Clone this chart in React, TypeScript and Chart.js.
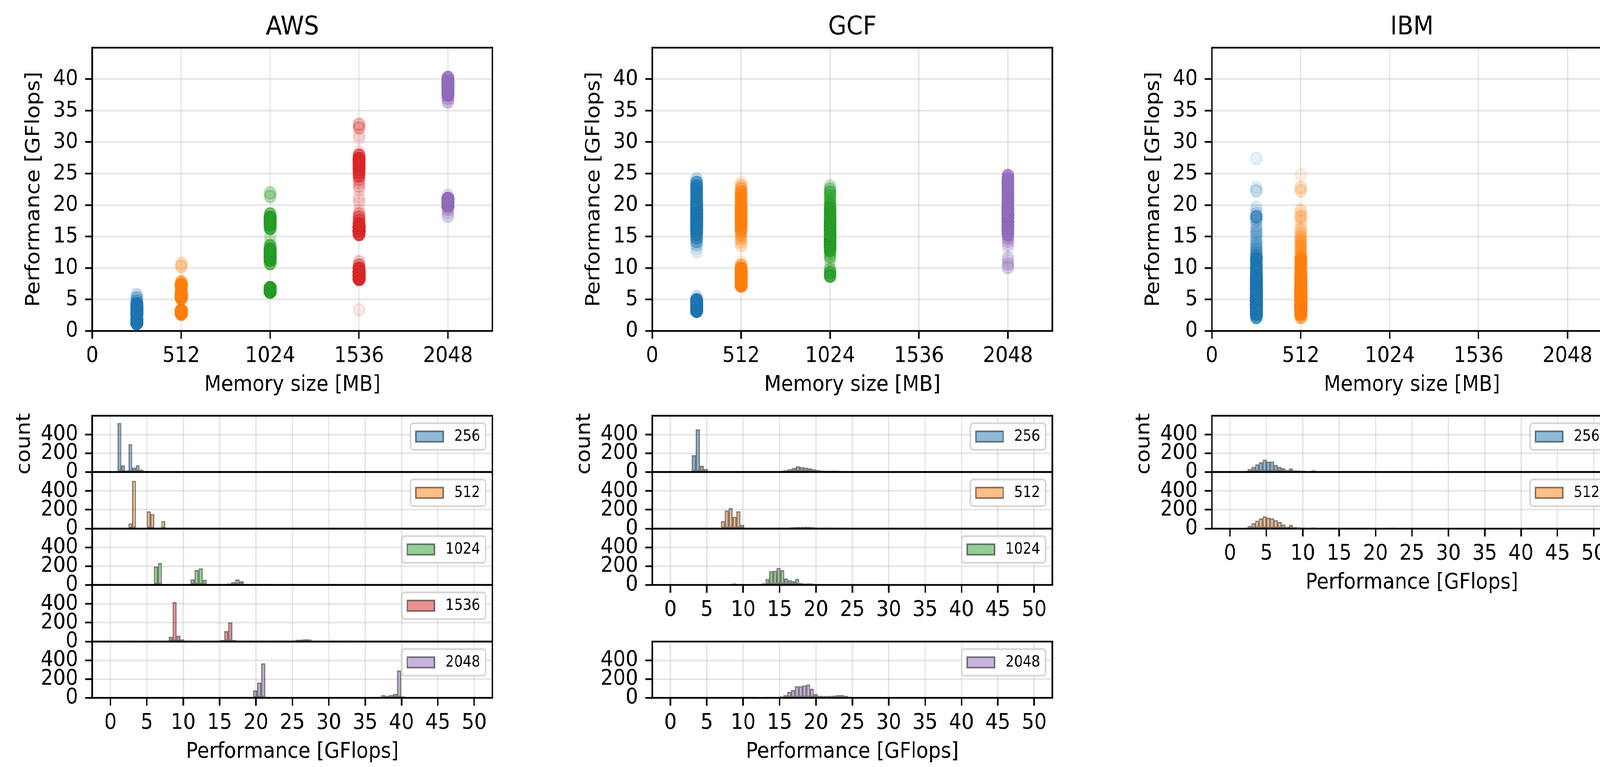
import React, { useEffect, useRef, useState } from "react";
import { Chart, registerables } from "chart.js";

Chart.register(...registerables);

// ---------------- data ----------------
const PROVIDERS = ["AWS", "GCF", "IBM"];
const MEMORY_SIZES = [256, 512, 1024, 1536, 2048];
const SERIES_COLORS = ["#1f77b4", "#ff7f0e", "#2ca02c", "#d62728", "#9467bd"];
const MEMORY_TICKS = [0, 512, 1024, 1536, 2048];
const PERF_TICKS = [0, 5, 10, 15, 20, 25, 30, 35, 40];
const HIST_PERF_TICKS = [0, 5, 10, 15, 20, 25, 30, 35, 40, 45, 50];
const COUNT_TICKS = [0, 200, 400];

// histogram bins: first bin edge [GFlops], bin width [GFlops], sample count per bin
const AWS_256 = { start: 1.0, width: 0.5, counts: [522, 70, 15, 296, 45, 70, 25, 5, 4, 2] };
const AWS_512 = { start: 2.5, width: 0.5, counts: [55, 506, 0, 0, 0, 183, 152, 8, 10, 79, 8, 0, 0, 0, 0, 3, 2] };
const AWS_1024 = { start: 5.96, width: 0.56, counts: [194, 233, 0, 0, 0, 0, 0, 0, 8, 59, 157, 176, 53, 8, 1, 1, 1, 0, 14, 29, 57, 39, 8, 0, 0, 0, 0, 3, 3] };
const AWS_1536 = { start: 3.095, width: 0.545, counts: [1, 0, 0, 0, 0, 0, 0, 0, 0, 49, 418, 61, 22, 5, 2, 0, 0, 0, 0, 0, 0, 0, 16, 110, 202, 16, 6, 6, 3, 1, 0, 1, 1, 1, 0, 1, 2, 2, 3, 8, 10, 18, 20, 24, 22, 8, 1, 0, 0, 0, 1, 1, 0, 3, 3] };
const AWS_2048 = { start: 17.96, width: 0.55, counts: [3, 2, 4, 78, 162, 367, 2, 0, 0, 0, 0, 0, 0, 0, 0, 0, 0, 0, 0, 0, 0, 0, 0, 0, 0, 0, 0, 0, 0, 0, 0, 0, 0, 4, 5, 29, 22, 29, 41, 290, 14] };

const GCF_256 = { start: 2.94, width: 0.55, counts: [178, 453, 65, 31, 2, 0, 0, 0, 0, 0, 0, 0, 0, 0, 0, 0, 0, 1, 1, 2, 5, 8, 12, 18, 30, 42, 60, 52, 46, 38, 28, 20, 14, 12, 12, 14, 12, 8, 2] };
const GCF_512 = { start: 6.96, width: 0.53, counts: [79, 191, 217, 124, 183, 39, 6, 1, 0, 0, 0, 0, 2, 2, 3, 4, 6, 10, 14, 16, 17, 18, 18, 16, 12, 9, 7, 10, 8, 5, 3, 1] };
const GCF_1024 = { start: 8.5, width: 0.51, counts: [14, 10, 4, 1, 0, 2, 5, 4, 16, 63, 147, 150, 180, 157, 67, 49, 39, 63, 20, 14, 16, 14, 8, 6, 5, 5, 6, 4, 2] };
const GCF_2048 = { start: 9.84, width: 0.52, counts: [3, 3, 2, 2, 0, 0, 1, 2, 3, 5, 14, 29, 62, 82, 123, 123, 131, 140, 94, 39, 20, 18, 18, 20, 23, 29, 29, 20, 10] };

const IBM_256 = { start: 1.91, width: 0.515, counts: [10, 31, 53, 81, 103, 131, 110, 110, 74, 53, 39, 21, 36, 17, 14, 13, 10, 6, 16, 7, 4, 4, 3, 3, 2, 2, 3, 2, 2, 1, 3, 8, 2, 1, 1, 0, 0, 0, 0, 2, 1, 0, 0, 0, 0, 0, 0, 0, 0, 1] };
const IBM_512 = { start: 1.91, width: 0.515, counts: [7, 29, 57, 83, 107, 129, 114, 107, 89, 69, 43, 21, 39, 17, 14, 12, 10, 9, 13, 6, 3, 4, 5, 3, 4, 3, 2, 2, 1, 1, 1, 3, 1, 2, 0, 0, 0, 0, 0, 2, 2, 0, 0, 0, 1] };

const AWS_SERIES = [AWS_256, AWS_512, AWS_1024, AWS_1536, AWS_2048];
const GCF_SERIES = [GCF_256, GCF_512, GCF_1024, null, GCF_2048];
const IBM_SERIES = [IBM_256, IBM_512, null, null, null];
const PROVIDER_SERIES: any[][] = [AWS_SERIES, GCF_SERIES, IBM_SERIES];

// ---------------- styling / layout ----------------
const FIG_W = 4526;
const FIG_H = 1963;
const FONT = "'DejaVu Sans', sans-serif";
const TICK_PX = 55.6;
const TITLE_PX = 66.7;
const LEGEND_PX = 38.6;
const LH = TICK_PX * 1.2;
const LINE_W = 4.4;
const TICK_LEN = 20;
const GRID_COLOR = "rgba(176,176,176,0.3)";

const COL_LEFT = [261, 1845, 3428];
const PLOT_W = 1132;
const SC_TOP = 122;
const SC_H = 725;
const HIST_TOPS = [1064, 1208, 1353, 1497, 1642];
const HIST_BOTTOM = 1786;

Chart.defaults.font.family = FONT;
Chart.defaults.color = "#000";

function rgba(hex: string, a: number) {
  const n = parseInt(hex.slice(1), 16);
  return `rgba(${(n >> 16) & 255},${(n >> 8) & 255},${n & 255},${a})`;
}

function binCenter(s: any, i: number) {
  return s.start + (i + 0.5) * s.width;
}

function scatterPoints(s: any, memory: number) {
  const pts: any[] = [];
  s.counts.forEach((c: number, i: number) => {
    for (let k = 0; k < c; k++) pts.push({ x: memory, y: binCenter(s, i) });
  });
  return pts;
}

function decor(params: { title?: string; legend?: { label: string; color: string } }) {
  return {
    id: "decor",
    afterDraw(chart: any) {
      const { ctx, chartArea: a } = chart;
      ctx.save();
      ctx.strokeStyle = "#000";
      ctx.lineWidth = LINE_W;
      ctx.strokeRect(a.left, a.top, a.right - a.left, a.bottom - a.top);
      if (params.title) {
        ctx.font = `${TITLE_PX}px ${FONT}`;
        ctx.fillStyle = "#000";
        ctx.textAlign = "center";
        ctx.textBaseline = "alphabetic";
        ctx.fillText(params.title, (a.left + a.right) / 2, a.top - 34);
      }
      if (params.legend) {
        const f = LEGEND_PX;
        const label = params.legend.label;
        ctx.font = `${f}px ${FONT}`;
        const tw = ctx.measureText(label).width;
        const bp = 0.4 * f, hl = 2 * f, hh = 0.7 * f, tp = 0.8 * f, ap = 0.5 * f;
        const bw = bp + hl + tp + tw + bp;
        const bh = 2 * bp + 0.96 * f;
        const bx = a.right - ap - bw;
        const by = a.top + ap;
        ctx.beginPath();
        (ctx as any).roundRect(bx, by, bw, bh, 0.2 * f);
        ctx.fillStyle = "rgba(255,255,255,0.8)";
        ctx.fill();
        ctx.strokeStyle = "rgba(204,204,204,0.8)";
        ctx.lineWidth = LINE_W;
        ctx.stroke();
        const cy = by + bh / 2;
        ctx.fillStyle = rgba(params.legend.color, 0.5);
        ctx.fillRect(bx + bp, cy - hh / 2, hl, hh);
        ctx.strokeStyle = "rgba(0,0,0,0.5)";
        ctx.lineWidth = 4;
        ctx.strokeRect(bx + bp, cy - hh / 2, hl, hh);
        ctx.fillStyle = "#000";
        ctx.textAlign = "left";
        ctx.textBaseline = "alphabetic";
        ctx.fillText(label, bx + bp + hl + tp, cy + 0.27 * f);
      }
      ctx.restore();
    },
  };
}

type Geo = { left: number; top: number; width: number; height: number; ml: number; mt: number; mr: number; mb: number };

function grid(drawTicks: boolean) {
  return { color: GRID_COLOR, lineWidth: LINE_W, drawTicks, tickLength: TICK_LEN, tickColor: "#000", tickWidth: LINE_W, offset: false };
}

const tickFont = { family: FONT, size: TICK_PX, lineHeight: 1.2 };

function baseOptions(g: Geo) {
  return {
    responsive: false,
    animation: false,
    devicePixelRatio: 1,
    events: [],
    layout: { padding: { left: 0, top: g.mt, right: g.mr, bottom: 0 } },
    plugins: { legend: { display: false }, tooltip: { enabled: false }, title: { display: false } },
  };
}

function scatterConfig(p: number, g: Geo) {
  const datasets = PROVIDER_SERIES[p]
    .map((s: any, i: number) =>
      s
        ? {
            label: String(MEMORY_SIZES[i]),
            data: scatterPoints(s, MEMORY_SIZES[i]),
            backgroundColor: rgba(SERIES_COLORS[i], 0.1),
            borderColor: rgba(SERIES_COLORS[i], 0.1),
            pointRadius: 15.5,
            pointHoverRadius: 15.5,
            pointBorderWidth: 5,
          }
        : null
    )
    .filter(Boolean);
  return {
    type: "scatter",
    data: { datasets },
    options: {
      ...baseOptions(g),
      scales: {
        x: {
          type: "linear",
          min: 0,
          max: 2304,
          afterBuildTicks: (s: any) => { s.ticks = MEMORY_TICKS.map((v) => ({ value: v })); },
          afterFit: (s: any) => { s.height = g.mb; },
          grid: grid(true),
          border: { display: false },
          ticks: { font: tickFont, color: "#000", padding: 11, maxRotation: 0, autoSkip: false, callback: (v: any) => String(v) },
          title: { display: true, text: "Memory size [MB]", font: tickFont, color: "#000", padding: { top: 0, bottom: g.mb - 139 - LH / 2 } },
        },
        y: {
          type: "linear",
          min: 0,
          max: 45,
          afterBuildTicks: (s: any) => { s.ticks = PERF_TICKS.map((v) => ({ value: v })); },
          afterFit: (s: any) => { s.width = g.ml; },
          grid: grid(true),
          border: { display: false },
          ticks: { font: tickFont, color: "#000", padding: 20, autoSkip: false, callback: (v: any) => String(v) },
          title: { display: true, text: "Performance [GFlops]", font: tickFont, color: "#000", padding: { top: g.ml - 164 - LH / 2, bottom: 0 } },
        },
      },
    },
    plugins: [decor({ title: PROVIDERS[p] })],
  };
}

function histConfig(p: number, row: number, g: Geo, o: { ticks: boolean; xTitle: boolean; yTitle: boolean }) {
  const s = PROVIDER_SERIES[p][row];
  const color = SERIES_COLORS[row];
  const label = String(MEMORY_SIZES[row]);
  return {
    type: "bar",
    data: {
      datasets: [
        {
          label,
          data: s.counts.map((c: number, i: number) => ({ x: binCenter(s, i), y: c })),
          backgroundColor: rgba(color, 0.5),
          borderColor: "rgba(0,0,0,0.5)",
          borderWidth: 3,
          borderSkipped: false,
          barPercentage: 1,
          categoryPercentage: 1,
          grouped: false,
        },
      ],
    },
    options: {
      ...baseOptions(g),
      scales: {
        x: {
          type: "linear",
          min: -2.5,
          max: 52.5,
          offset: false,
          afterBuildTicks: (sc: any) => { sc.ticks = HIST_PERF_TICKS.map((v) => ({ value: v })); },
          afterFit: (sc: any) => { sc.height = g.mb; },
          grid: grid(o.ticks),
          border: { display: false },
          ticks: { display: o.ticks, font: tickFont, color: "#000", padding: 11, maxRotation: 0, autoSkip: false, callback: (v: any) => String(v) },
          title: { display: o.xTitle, text: "Performance [GFlops]", font: tickFont, color: "#000", padding: { top: 0, bottom: g.mb - 139 - LH / 2 } },
        },
        y: {
          type: "linear",
          min: 0,
          max: 600,
          afterBuildTicks: (sc: any) => { sc.ticks = COUNT_TICKS.map((v) => ({ value: v })); },
          afterFit: (sc: any) => { sc.width = g.ml; },
          grid: grid(true),
          border: { display: false },
          ticks: { font: tickFont, color: "#000", padding: 20, autoSkip: false, callback: (v: any) => String(v) },
          title: { display: o.yTitle, text: "count", font: tickFont, color: "#000", padding: { top: g.ml - 191 - LH / 2, bottom: 0 } },
        },
      },
    },
    plugins: [decor({ legend: { label, color } })],
  };
}

function ChartPanel({ geo, make }: { geo: Geo; make: (g: Geo) => any }) {
  const ref = useRef<HTMLCanvasElement>(null);
  useEffect(() => {
    const chart = new Chart(ref.current as HTMLCanvasElement, make(geo));
    return () => chart.destroy();
  }, []);
  const W = geo.width + geo.ml + geo.mr;
  const H = geo.height + geo.mt + geo.mb;
  return (
    <canvas
      ref={ref}
      width={W}
      height={H}
      style={{ position: "absolute", left: geo.left - geo.ml, top: geo.top - geo.mt, width: W, height: H }}
    />
  );
}

export default function App() {
  // the figure is laid out in 4526x1963 figure pixels; fit it to the actual viewport
  const [fit] = useState(() => {
    const w = typeof window !== "undefined" ? window.innerWidth : FIG_W;
    const h = typeof window !== "undefined" ? window.innerHeight : FIG_H;
    return { sx: w > 0 ? w / FIG_W : 1, sy: h > 0 ? h / FIG_H : 1 };
  });

  useEffect(() => {
    document.body.style.margin = "0";
    document.body.style.overflow = "hidden";
    document.documentElement.style.overflow = "hidden";
  }, []);

  const panels: any[] = [];
  PROVIDERS.forEach((_, p) => {
    const sg: Geo = { left: COL_LEFT[p], top: SC_TOP, width: PLOT_W, height: SC_H, ml: 260, mt: 120, mr: 60, mb: 220 };
    panels.push(<ChartPanel key={`sc-${p}`} geo={sg} make={(g) => scatterConfig(p, g)} />);
    const series = PROVIDER_SERIES[p];
    let lastRow = -1;
    series.forEach((s: any, r: number) => { if (s) lastRow = r; });
    let first = true;
    series.forEach((s: any, r: number) => {
      if (!s) return;
      const top = HIST_TOPS[r];
      const bottom = r + 1 < HIST_TOPS.length ? HIST_TOPS[r + 1] : HIST_BOTTOM;
      const showTicks = r === series.length - 1 || !series[r + 1];
      const xTitle = r === lastRow;
      const yTitle = first;
      first = false;
      const mb = xTitle ? 220 : showTicks ? 160 : 80;
      const hg: Geo = { left: COL_LEFT[p], top, width: PLOT_W, height: bottom - top, ml: 260, mt: 80, mr: 60, mb };
      panels.push(
        <ChartPanel key={`h-${p}-${r}`} geo={hg} make={(g) => histConfig(p, r, g, { ticks: showTicks, xTitle, yTitle })} />
      );
    });
  });
  return (
    <div style={{ position: "absolute", left: 0, top: 0, width: FIG_W * fit.sx, height: FIG_H * fit.sy, overflow: "hidden", background: "#fff" }}>
      <div
        style={{
          position: "absolute",
          left: 0,
          top: 0,
          width: FIG_W,
          height: FIG_H,
          overflow: "hidden",
          background: "#fff",
          transform: `scale(${fit.sx}, ${fit.sy})`,
          transformOrigin: "0 0",
        }}
      >
        {panels}
      </div>
    </div>
  );
}
